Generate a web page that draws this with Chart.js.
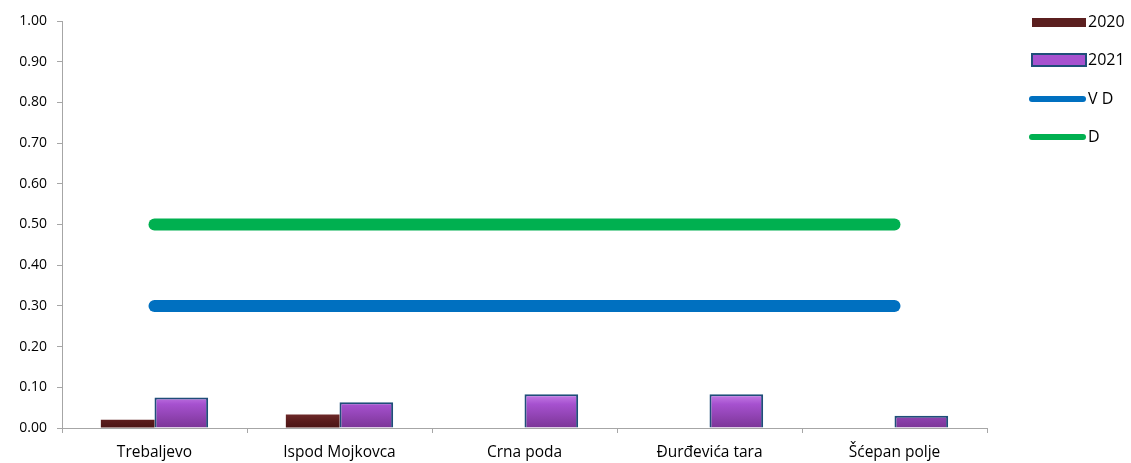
<!DOCTYPE html>
<html>
<head>
<meta charset="utf-8">
<script src="https://cdn.jsdelivr.net/npm/chart.js@4/dist/chart.umd.min.js"></script>
<style>
  html, body { margin: 0; padding: 0; background: #fff; }
  #wrap { width: 1131px; height: 463px; position: relative; }
</style>
</head>
<body>
<div id="wrap"><canvas id="chart" width="1131" height="463"></canvas></div>
<script>
// data
var categories = ['Trebaljevo', 'Ispod Mojkovca', 'Crna poda', 'Đurđevića tara', 'Šćepan polje'];
var values2020 = [0.02, 0.033, null, null, null];
var values2021 = [0.075, 0.063, 0.083, 0.083, 0.03];
var limitVD = [0.30, 0.30, 0.30, 0.30, 0.30];
var limitD = [0.50, 0.50, 0.50, 0.50, 0.50];
var seriesNames = ['2020', '2021', 'V D', 'D'];

var FONT = "'Open Sans', 'Noto Sans', sans-serif";

function brownFill(c) {
    var area = c.chart.chartArea;
    if (!area) return '#5b1f1f';
    var g = c.chart.ctx.createLinearGradient(0, area.bottom - 14, 0, area.bottom);
    g.addColorStop(0, '#6e2a2a');
    g.addColorStop(0.5, '#5a1c1c');
    g.addColorStop(1, '#4a1414');
    return g;
}

function purpleFill(c) {
    var area = c.chart.chartArea;
    if (!area) return '#9b4fc4';
    var g = c.chart.ctx.createLinearGradient(0, area.bottom - 34, 0, area.bottom);
    g.addColorStop(0, '#c77ee8');
    g.addColorStop(0.3, '#a651cf');
    g.addColorStop(1, '#7b3596');
    return g;
}

// custom legend to the right, like the original
var sideLegend = {
    id: 'sideLegend',
    afterDraw: function (chart) {
        var ctx = chart.ctx;
        ctx.save();
        var x0 = 1032, x1 = 1086;
        var rows = [22, 60, 99, 137];
        // 2020
        ctx.fillStyle = '#5b1f1f';
        ctx.fillRect(x0, rows[0] - 4, x1 - x0, 9);
        // 2021
        ctx.fillStyle = '#a652cf';
        ctx.fillRect(x0, rows[1] - 6, x1 - x0, 12);
        ctx.lineWidth = 2;
        ctx.strokeStyle = '#1f4e79';
        ctx.strokeRect(x0, rows[1] - 6, x1 - x0, 12);
        // V D
        ctx.lineCap = 'round';
        ctx.lineWidth = 6;
        ctx.strokeStyle = '#0070c0';
        ctx.beginPath(); ctx.moveTo(x0, rows[2]); ctx.lineTo(x1 - 3, rows[2]); ctx.stroke();
        // D
        ctx.strokeStyle = '#00b050';
        ctx.beginPath(); ctx.moveTo(x0, rows[3]); ctx.lineTo(x1 - 3, rows[3]); ctx.stroke();

        ctx.fillStyle = '#000';
        ctx.font = '16px ' + FONT;
        ctx.textBaseline = 'middle';
        ctx.textAlign = 'left';
        for (var i = 0; i < seriesNames.length; i++) {
            ctx.fillText(seriesNames[i], 1088, rows[i]);
        }
        ctx.restore();
    }
};

var ctx = document.getElementById('chart').getContext('2d');
new Chart(ctx, {
    data: {
        labels: categories,
        datasets: [
            {
                type: 'bar', label: '2020', data: values2020,
                backgroundColor: brownFill, borderColor: '#3d1010', borderWidth: 0,
                categoryPercentage: 0.58, barPercentage: 1.0, order: 2
            },
            {
                type: 'bar', label: '2021', data: values2021,
                backgroundColor: purpleFill, borderColor: '#1f4e79', borderWidth: 2,
                categoryPercentage: 0.58, barPercentage: 1.0, order: 3
            },
            {
                type: 'line', label: 'V D', data: limitVD,
                borderColor: '#0070c0', borderWidth: 12, borderCapStyle: 'round',
                pointRadius: 0, fill: false, order: 1
            },
            {
                type: 'line', label: 'D', data: limitD,
                borderColor: '#00b050', borderWidth: 12, borderCapStyle: 'round',
                pointRadius: 0, fill: false, order: 0
            }
        ]
    },
    options: {
        responsive: false,
        animation: false,
        layout: { padding: { top: 21, right: 144, bottom: 0, left: 0 } },
        plugins: {
            legend: { display: false },
            tooltip: { enabled: false }
        },
        scales: {
            x: {
                offset: true,
                grid: {
                    offset: true, drawOnChartArea: false, drawTicks: true,
                    tickLength: 5, color: '#a6a6a6', lineWidth: 1
                },
                border: { color: '#a6a6a6', width: 1 },
                ticks: { color: '#000', font: { family: FONT, size: 15.5 }, padding: 10, maxRotation: 0 },
                afterFit: function (s) { s.height = 35; }
            },
            y: {
                min: 0, max: 1,
                grid: {
                    drawOnChartArea: false, drawTicks: true,
                    tickLength: 5, color: '#a6a6a6', lineWidth: 1
                },
                border: { color: '#a6a6a6', width: 1 },
                ticks: {
                    stepSize: 0.1, color: '#000', padding: 10,
                    font: { family: FONT, size: 14 },
                    callback: function (v) { return Number(v).toFixed(2); }
                },
                afterFit: function (s) { s.width = 62; }
            }
        }
    },
    plugins: [sideLegend]
});
</script>
</body>
</html>
